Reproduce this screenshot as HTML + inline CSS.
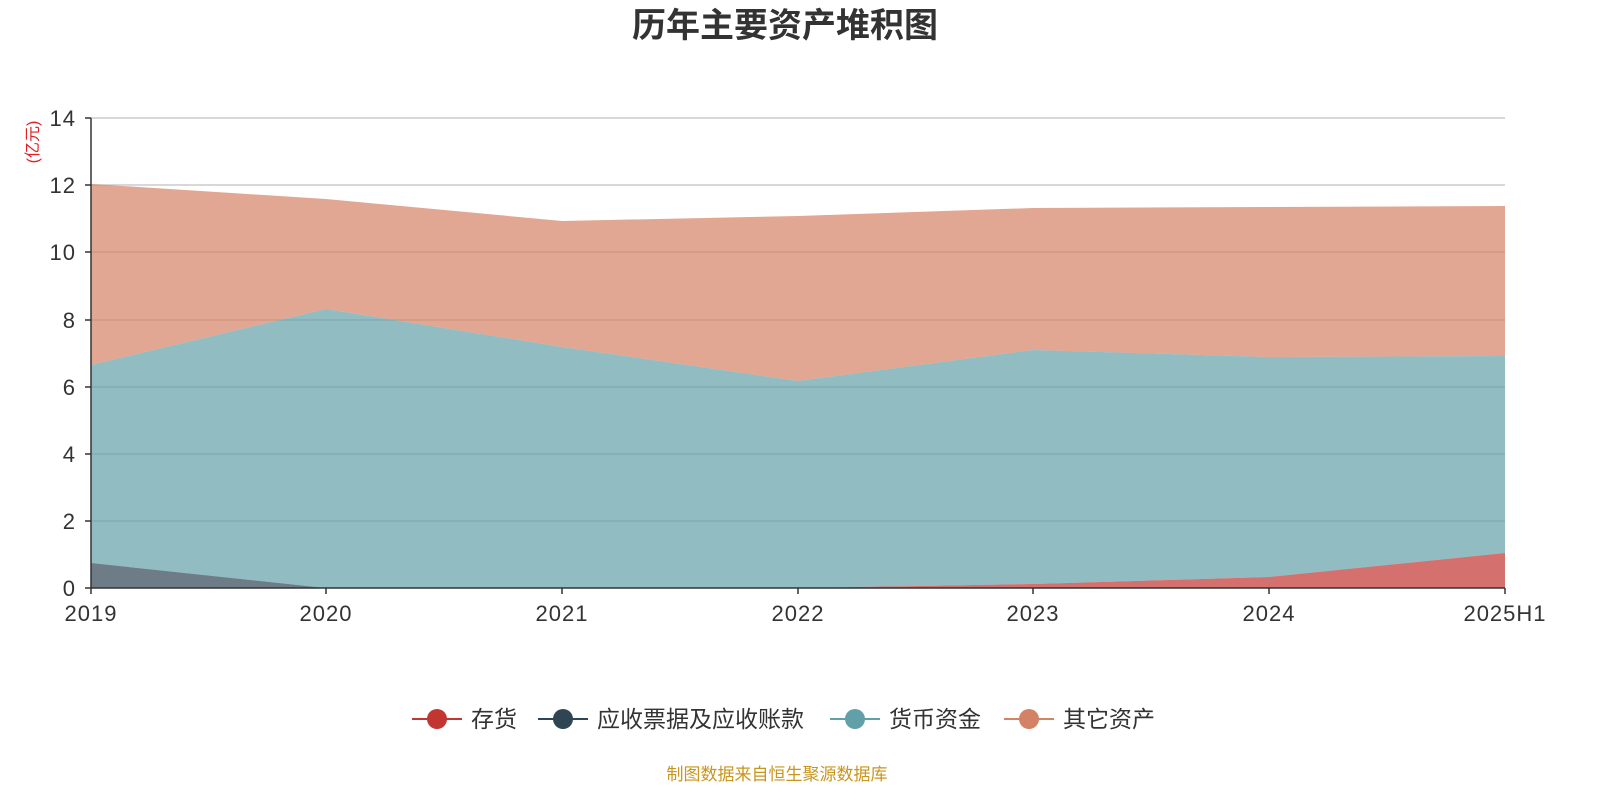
<!DOCTYPE html>
<html><head><meta charset="utf-8"><style>
body{margin:0;background:#fff;width:1600px;height:800px;overflow:hidden}
svg{display:block}
text{font-family:"Liberation Sans","Noto Sans CJK SC",sans-serif}
</style></head><body>
<svg width="1600" height="800" viewBox="0 0 1600 800">
<text x="785" y="37" text-anchor="middle" font-size="34" font-weight="bold" fill="#333">历年主要资产堆积图</text>
<text transform="translate(38,142) rotate(-90)" text-anchor="middle" font-size="16" fill="#e02020">(亿元)</text>
<g stroke="#ccc" stroke-width="1.5">
<line x1="91" y1="118" x2="1505" y2="118"/>
<line x1="91" y1="185" x2="1505" y2="185"/>
<line x1="91" y1="252" x2="1505" y2="252"/>
<line x1="91" y1="320" x2="1505" y2="320"/>
<line x1="91" y1="387" x2="1505" y2="387"/>
<line x1="91" y1="454" x2="1505" y2="454"/>
<line x1="91" y1="521" x2="1505" y2="521"/>
</g>
<polygon fill="#d48265" fill-opacity="0.7" points="91,184 326,199 562,221 798,216 1033,208 1269,207 1505,206 1505,356 1269,357 1033,350 798,381 562,347 326,309 91,365"/>
<polygon fill="#61a0a8" fill-opacity="0.7" points="91,365 326,309 562,347 798,381 1033,350 1269,357 1505,356 1505,553 1269,577 1033,584 798,588 562,588 326,588 91,563"/>
<polygon fill="#2f4554" fill-opacity="0.7" points="91,563 326,588 91,588"/>
<polygon fill="#c23531" fill-opacity="0.7" points="798,588 1033,584 1269,577 1505,553 1505,588"/>
<g stroke="#333" stroke-width="1.5">
<line x1="91" y1="118" x2="91" y2="588"/>
<line x1="91" y1="588" x2="1505" y2="588"/>
<line x1="85" y1="118" x2="91" y2="118"/><line x1="85" y1="185" x2="91" y2="185"/><line x1="85" y1="252" x2="91" y2="252"/><line x1="85" y1="320" x2="91" y2="320"/><line x1="85" y1="387" x2="91" y2="387"/><line x1="85" y1="454" x2="91" y2="454"/><line x1="85" y1="521" x2="91" y2="521"/><line x1="85" y1="588" x2="91" y2="588"/>
<line x1="91" y1="588" x2="91" y2="594"/><line x1="326" y1="588" x2="326" y2="594"/><line x1="562" y1="588" x2="562" y2="594"/><line x1="798" y1="588" x2="798" y2="594"/><line x1="1033" y1="588" x2="1033" y2="594"/><line x1="1269" y1="588" x2="1269" y2="594"/><line x1="1505" y1="588" x2="1505" y2="594"/>
</g>
<g font-size="22" fill="#333" text-anchor="end" letter-spacing="1">
<text x="76" y="126">14</text><text x="76" y="193">12</text><text x="76" y="260">10</text><text x="76" y="328">8</text><text x="76" y="395">6</text><text x="76" y="462">4</text><text x="76" y="529">2</text><text x="76" y="596">0</text>
</g>
<g font-size="22" fill="#333" text-anchor="middle" letter-spacing="1">
<text x="91" y="621">2019</text><text x="326" y="621">2020</text><text x="562" y="621">2021</text><text x="798" y="621">2022</text><text x="1033" y="621">2023</text><text x="1269" y="621">2024</text><text x="1505" y="621">2025H1</text>
</g>
<g font-size="23" fill="#333">
<line x1="412" y1="719" x2="462" y2="719" stroke="#c23531" stroke-width="2"/><circle cx="437" cy="719" r="10" fill="#c23531"/><text x="471" y="727">存货</text>
<line x1="538" y1="719" x2="588" y2="719" stroke="#2f4554" stroke-width="2"/><circle cx="563" cy="719" r="10" fill="#2f4554"/><text x="597" y="727">应收票据及应收账款</text>
<line x1="830" y1="719" x2="880" y2="719" stroke="#61a0a8" stroke-width="2"/><circle cx="855" cy="719" r="10" fill="#61a0a8"/><text x="889" y="727">货币资金</text>
<line x1="1004" y1="719" x2="1054" y2="719" stroke="#d48265" stroke-width="2"/><circle cx="1029" cy="719" r="10" fill="#d48265"/><text x="1063" y="727">其它资产</text>
</g>
<text x="777" y="780" text-anchor="middle" font-size="17" fill="#c8961e">制图数据来自恒生聚源数据库</text>
</svg>
</body></html>
